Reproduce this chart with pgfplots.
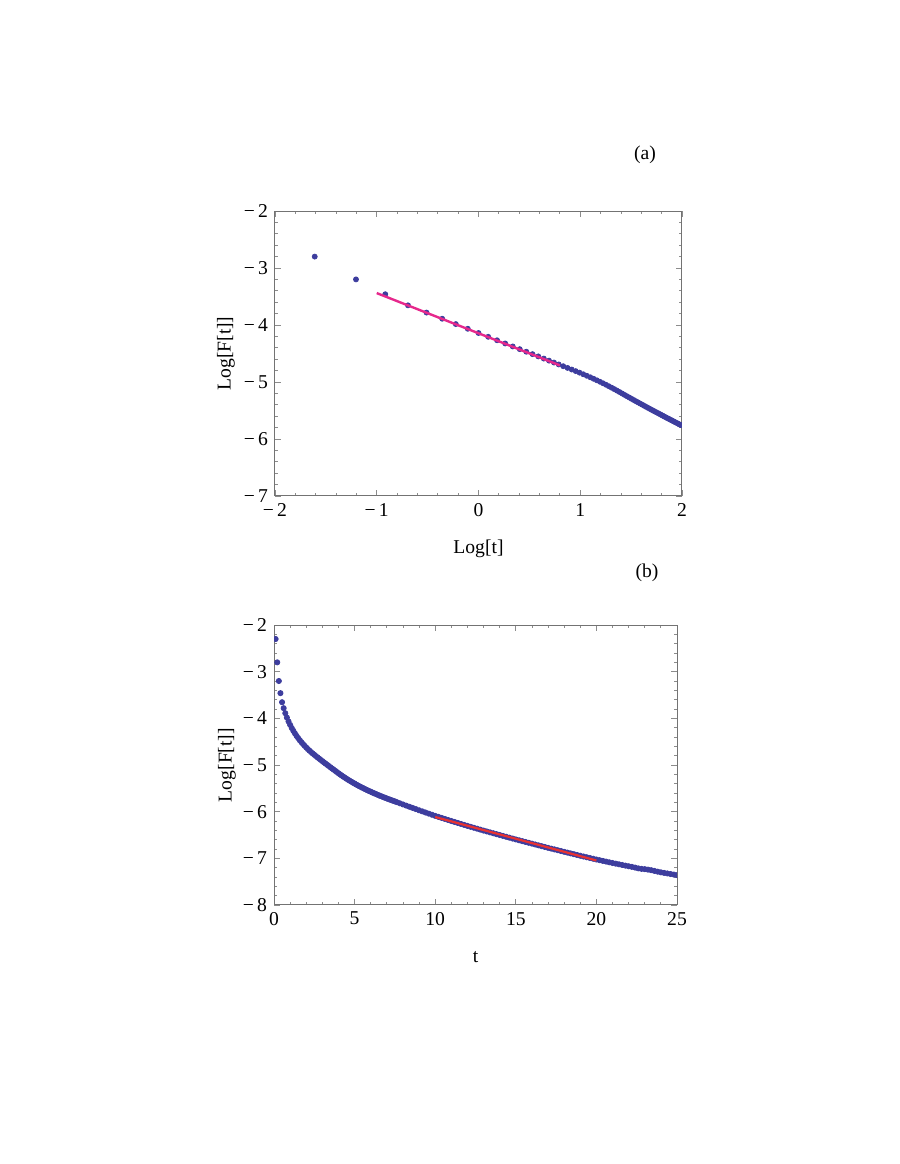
\documentclass[border=0pt]{standalone}
\usepackage{fontspec}
\setmainfont{Liberation Serif}
\usepackage{pgfplots}
\pgfplotsset{compat=1.18}
\usepackage{pgfplotstable}
\definecolor{ptblue}{rgb}{0.24,0.24,0.62}
\definecolor{fitpink}{RGB}{230,40,140}
\definecolor{fitred}{RGB}{232,50,50}
\definecolor{framegray}{gray}{0.45}
\definecolor{tickgray}{gray}{0.55}

\pgfplotstableread{
X Y
-1.6094 -2.800
-1.2040 -3.200
-0.9163 -3.460
-0.6931 -3.655
-0.5108 -3.782
-0.3567 -3.890
-0.2231 -3.984
-0.1054 -4.066
0.0000 -4.140
0.0953 -4.207
0.1823 -4.268
0.2624 -4.324
0.3365 -4.376
0.4055 -4.424
0.4700 -4.469
0.5306 -4.511
0.5878 -4.551
0.6419 -4.589
0.6931 -4.625
0.7419 -4.659
0.7885 -4.692
0.8329 -4.723
0.8755 -4.753
0.9163 -4.781
0.9555 -4.809
0.9933 -4.836
1.0296 -4.864
1.0647 -4.891
1.0986 -4.917
1.1314 -4.944
1.1632 -4.970
1.1939 -4.996
1.2238 -5.022
1.2528 -5.048
1.2809 -5.074
1.3083 -5.100
1.3350 -5.125
1.3610 -5.151
1.3863 -5.176
1.4110 -5.201
1.4351 -5.226
1.4586 -5.249
1.4816 -5.272
1.5041 -5.295
1.5261 -5.317
1.5476 -5.338
1.5686 -5.358
1.5892 -5.379
1.6094 -5.398
1.6292 -5.418
1.6487 -5.437
1.6677 -5.455
1.6864 -5.473
1.7047 -5.491
1.7228 -5.508
1.7405 -5.525
1.7579 -5.541
1.7750 -5.557
1.7918 -5.573
1.8083 -5.589
1.8245 -5.604
1.8406 -5.619
1.8563 -5.634
1.8718 -5.648
1.8871 -5.663
1.9021 -5.676
1.9169 -5.690
1.9315 -5.704
1.9459 -5.717
1.9601 -5.730
1.9741 -5.743
1.9879 -5.755
2.0015 -5.768
2.0149 -5.780
}\tableA

\pgfplotstableread{
t Y
0.1 -2.300
0.2 -2.800
0.3 -3.200
0.4 -3.460
0.5 -3.655
0.6 -3.782
0.7 -3.890
0.8 -3.984
0.9 -4.066
1.0 -4.140
1.1 -4.207
1.2 -4.268
1.3 -4.324
1.4 -4.376
1.5 -4.424
1.6 -4.469
1.7 -4.511
1.8 -4.551
1.9 -4.589
2.0 -4.625
2.1 -4.659
2.2 -4.692
2.3 -4.723
2.4 -4.753
2.5 -4.781
2.6 -4.809
2.7 -4.836
2.8 -4.864
2.9 -4.891
3.0 -4.917
3.1 -4.944
3.2 -4.970
3.3 -4.996
3.4 -5.022
3.5 -5.048
3.6 -5.074
3.7 -5.100
3.8 -5.125
3.9 -5.151
4.0 -5.176
4.1 -5.201
4.2 -5.226
4.3 -5.249
4.4 -5.272
4.5 -5.295
4.6 -5.317
4.7 -5.338
4.8 -5.358
4.9 -5.379
5.0 -5.398
5.1 -5.418
5.2 -5.437
5.3 -5.455
5.4 -5.473
5.5 -5.491
5.6 -5.508
5.7 -5.525
5.8 -5.541
5.9 -5.557
6.0 -5.573
6.1 -5.589
6.2 -5.604
6.3 -5.619
6.4 -5.634
6.5 -5.648
6.6 -5.663
6.7 -5.676
6.8 -5.690
6.9 -5.704
7.0 -5.717
7.1 -5.730
7.2 -5.743
7.3 -5.755
7.4 -5.768
7.5 -5.780
7.6 -5.793
7.8 -5.819
8.0 -5.845
8.2 -5.870
8.4 -5.895
8.6 -5.920
8.8 -5.945
9.0 -5.970
9.2 -5.994
9.4 -6.018
9.6 -6.042
9.8 -6.066
10.0 -6.090
10.2 -6.112
10.4 -6.134
10.6 -6.156
10.8 -6.178
11.0 -6.200
11.2 -6.221
11.4 -6.242
11.6 -6.263
11.8 -6.284
12.0 -6.305
12.2 -6.325
12.4 -6.345
12.6 -6.365
12.8 -6.385
13.0 -6.405
13.2 -6.424
13.4 -6.443
13.6 -6.462
13.8 -6.481
14.0 -6.500
14.2 -6.519
14.4 -6.538
14.6 -6.557
14.8 -6.576
15.0 -6.595
15.2 -6.613
15.4 -6.631
15.6 -6.649
15.8 -6.667
16.0 -6.685
16.2 -6.703
16.4 -6.721
16.6 -6.739
16.8 -6.757
17.0 -6.775
17.2 -6.792
17.4 -6.809
17.6 -6.826
17.8 -6.843
18.0 -6.860
18.2 -6.877
18.4 -6.894
18.6 -6.911
18.8 -6.928
19.0 -6.945
19.2 -6.961
19.4 -6.977
19.6 -6.993
19.8 -7.009
20.0 -7.025
20.2 -7.040
20.4 -7.055
20.6 -7.070
20.8 -7.085
21.0 -7.100
21.2 -7.114
21.4 -7.128
21.6 -7.142
21.8 -7.156
22.0 -7.170
22.2 -7.183
22.4 -7.198
22.6 -7.215
22.8 -7.226
23.0 -7.232
23.2 -7.242
23.4 -7.254
23.6 -7.270
23.8 -7.286
24.0 -7.300
24.2 -7.312
24.4 -7.324
24.6 -7.336
24.8 -7.348
25.0 -7.360
}\tableB

\pgfplotsset{mmastyle/.style={
  scale only axis,
  axis line style={framegray, line width=0.5pt},
  tick align=inside,
  tick pos=both,
  major tick length=3pt,
  minor tick length=1.7pt,
  tick style={tickgray, line width=0.4pt},
  minor tick num=4,
  clip marker paths=true,
  tick label style={font=\fontsize{9.8}{11}\selectfont, black},
  label style={font=\fontsize{9.8}{11}\selectfont, black},
}}

\begin{document}
\begin{tikzpicture}[font=\fontsize{9.8}{11}\selectfont]
\path[use as bounding box] (0pt,0pt) rectangle (450pt,582pt);

\begin{axis}[mmastyle,
  at={(137.5pt,334pt)}, anchor=south west,
  width=203.5pt, height=142.5pt,
  xmin=-2, xmax=2, ymin=-7, ymax=-2,
  xtick={-2,-1,0,1,2}, xticklabels={−\,2,−\,1,0,1,2},
  ytick={-7,-6,-5,-4,-3,-2}, yticklabels={−\,7,−\,6,−\,5,−\,4,−\,3,−\,2},
  xlabel={Log[t]}, ylabel={Log[F[t]]},
  xlabel style={at={(axis description cs:0.5,-0.2035)}, anchor=base},
  ylabel style={at={(axis description cs:-0.1204,0.5)}, anchor=center},
]
\addplot[ptblue, only marks, mark=*, mark size=1.25pt, mark options={draw=none, fill=ptblue}] table[x=X, y=Y] {\tableA};
\addplot[fitpink, line width=1.2pt] coordinates {(-1,-3.44) (0.8,-4.709)};
\end{axis}

\begin{axis}[mmastyle,
  at={(137pt,129.5pt)}, anchor=south west,
  width=201.5pt, height=140pt,
  xmin=0, xmax=25, ymin=-8, ymax=-2,
  xtick={0,5,10,15,20,25}, xticklabels={0,5,10,15,20,25},
  ytick={-8,-7,-6,-5,-4,-3,-2}, yticklabels={−\,8,−\,7,−\,6,−\,5,−\,4,−\,3,−\,2},
  xlabel={t}, ylabel={Log[F[t]]},
  xlabel style={at={(axis description cs:0.5,-0.207)}, anchor=base},
  ylabel style={at={(axis description cs:-0.1166,0.5)}, anchor=center},
]
\addplot[ptblue, only marks, mark=*, mark size=1.3pt, mark options={draw=none, fill=ptblue}] table[x=t, y=Y] {\tableB};
\addplot[fitred, line width=1.1pt] coordinates {(10,-6.115) (20,-7.046)};
\end{axis}

\node at (322.5pt,504.5pt) {(a)};
\node at (323.5pt,295.5pt) {(b)};
\end{tikzpicture}
\end{document}
